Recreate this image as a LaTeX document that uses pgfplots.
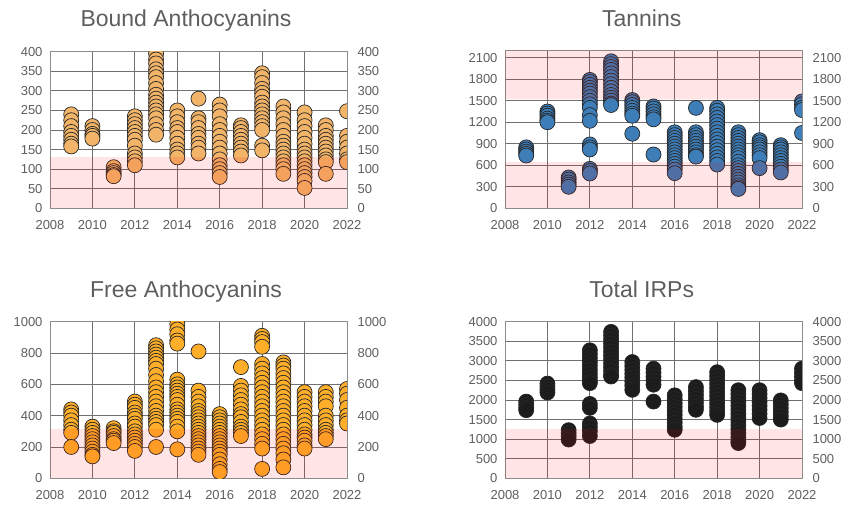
\documentclass[border=0pt]{standalone}
\usepackage{pgfplots}
\pgfplotsset{compat=1.18}
\usepackage{fontspec}
\setmainfont{Liberation Sans}
\definecolor{txt}{HTML}{5E5E5E}
\definecolor{gridc}{HTML}{707070}
\definecolor{boundc}{HTML}{F2B468}
\definecolor{freec}{HTML}{FFAE2A}
\definecolor{tanc}{HTML}{3D7DB8}
\definecolor{irpc}{HTML}{1C1C1C}
\pgfplotsset{
  base/.style={scale only axis, width=297pt, height=156.6pt,
    xmin=2008, xmax=2022, xtick={2008,2010,...,2022},
    grid=major, major grid style={gridc, line width=0.8pt},
    axis line style={gray!90, line width=0.8pt}, tick style={draw=none},
    ticklabel style={font=\fontsize{13}{15}\selectfont, text=txt},
    /pgf/number format/assume math mode=true, /pgf/number format/1000 sep={},
    clip marker paths=true,
    yticklabel style={xshift=-4pt}, xticklabel style={yshift=-9pt}},
  raxis/.style={scale only axis, width=297pt, height=156.6pt,
    xmin=2008, xmax=2022, axis y line*=right, axis x line=none,
    axis line style={gray!90, line width=0.8pt}, tick style={draw=none},
    ticklabel style={font=\fontsize{13}{15}\selectfont, text=txt},
    /pgf/number format/assume math mode=true, /pgf/number format/1000 sep={},
    yticklabel style={xshift=7pt}},
  band/.style={draw=none, fill=red, fill opacity=0.1, forget plot},
  pts/.style={only marks, mark=*, mark size=7.5pt, mark options={fill=#1, draw=black!85, line width=0.7pt}},
}
\begin{document}
\begin{tikzpicture}
\path[use as bounding box] (0,0) rectangle (849pt,504pt);
% ---------------- Bound Anthocyanins
\begin{axis}[base, at={(50pt,295.7pt)}, anchor=south west, ymin=0, ymax=400, ytick={0,50,...,400}]
\addplot[pts=boundc] coordinates {
(2009,240)(2009,225)(2009,210)(2009,195)(2009,185)(2009,175)(2009,165)(2009,158)
(2010,210)(2010,200)(2010,190)(2010,185)(2010,178)
(2011,105)(2011,95)(2011,90)(2011,85)(2011,82)
(2012,235)(2012,225)(2012,215)(2012,205)(2012,195)(2012,185)(2012,175)(2012,160)(2012,140)(2012,130)(2012,120)(2012,110)
(2013,395)(2013,380)(2013,370)(2013,355)(2013,345)(2013,335)(2013,320)(2013,305)(2013,290)(2013,280)(2013,270)(2013,260)(2013,250)(2013,240)(2013,230)(2013,215)(2013,200)(2013,188)
(2014,250)(2014,235)(2014,220)(2014,205)(2014,195)(2014,180)(2014,165)(2014,150)(2014,140)(2014,130)
(2015,280)(2015,230)(2015,220)(2015,205)(2015,190)(2015,180)(2015,165)(2015,155)(2015,140)
(2016,265)(2016,250)(2016,235)(2016,215)(2016,200)(2016,185)(2016,170)(2016,155)(2016,140)(2016,125)(2016,110)(2016,100)(2016,90)(2016,80)
(2017,212)(2017,205)(2017,195)(2017,185)(2017,175)(2017,165)(2017,155)(2017,145)(2017,135)
(2018,345)(2018,335)(2018,320)(2018,305)(2018,295)(2018,285)(2018,270)(2018,260)(2018,250)(2018,240)(2018,230)(2018,220)(2018,210)(2018,200)(2018,160)(2018,148)
(2019,260)(2019,245)(2019,230)(2019,215)(2019,200)(2019,185)(2019,170)(2019,160)(2019,150)(2019,140)(2019,130)(2019,120)(2019,110)(2019,100)(2019,88)
(2020,245)(2020,225)(2020,210)(2020,195)(2020,180)(2020,165)(2020,150)(2020,140)(2020,130)(2020,120)(2020,110)(2020,100)(2020,90)(2020,80)(2020,70)(2020,52)
(2021,212)(2021,200)(2021,185)(2021,175)(2021,165)(2021,155)(2021,145)(2021,135)(2021,125)(2021,118)(2021,88)
(2022,248)(2022,185)(2022,170)(2022,155)(2022,140)(2022,125)(2022,118)
};
\addplot[band] coordinates {(2008,130) (2022,130)} \closedcycle;
\end{axis}
\begin{axis}[raxis, at={(50pt,295.7pt)}, anchor=south west, ymin=0, ymax=400, ytick={0,50,...,400}]
\end{axis}
% ---------------- Tannins
\begin{axis}[base, at={(505pt,295.7pt)}, anchor=south west, height=157.8pt, ymin=0, ymax=2200, ytick={0,300,...,2100}]
\addplot[pts=tanc] coordinates {
(2009,850)(2009,820)(2009,790)(2009,760)(2009,735)
(2010,1350)(2010,1320)(2010,1290)(2010,1250)(2010,1220)(2010,1200)
(2011,430)(2011,400)(2011,360)(2011,330)(2011,300)
(2012,1790)(2012,1760)(2012,1720)(2012,1680)(2012,1640)(2012,1600)(2012,1550)(2012,1500)(2012,1450)(2012,1400)(2012,1300)(2012,1220)(2012,890)(2012,850)(2012,820)(2012,550)(2012,520)(2012,485)
(2013,2050)(2013,2010)(2013,1970)(2013,1930)(2013,1880)(2013,1830)(2013,1780)(2013,1730)(2013,1680)(2013,1630)(2013,1580)(2013,1540)(2013,1500)(2013,1460)(2013,1440)
(2014,1510)(2014,1480)(2014,1440)(2014,1400)(2014,1360)(2014,1320)(2014,1290)(2014,1040)
(2015,1420)(2015,1390)(2015,1350)(2015,1310)(2015,1270)(2015,1240)(2015,750)
(2016,1060)(2016,1020)(2016,980)(2016,940)(2016,900)(2016,860)(2016,820)(2016,780)(2016,740)(2016,700)(2016,660)(2016,620)(2016,580)(2016,540)(2016,490)
(2017,1400)(2017,1060)(2017,1020)(2017,980)(2017,940)(2017,900)(2017,860)(2017,820)(2017,780)(2017,740)(2017,720)
(2018,1400)(2018,1360)(2018,1310)(2018,1260)(2018,1210)(2018,1160)(2018,1110)(2018,1060)(2018,1010)(2018,960)(2018,910)(2018,860)(2018,810)(2018,760)(2018,710)(2018,660)(2018,610)
(2019,1060)(2019,1020)(2019,980)(2019,940)(2019,900)(2019,860)(2019,820)(2019,780)(2019,740)(2019,700)(2019,650)(2019,600)(2019,560)(2019,520)(2019,480)(2019,440)(2019,400)(2019,360)(2019,320)(2019,290)(2019,270)
(2020,950)(2020,920)(2020,880)(2020,850)(2020,820)(2020,780)(2020,740)(2020,700)(2020,560)
(2021,880)(2021,850)(2021,820)(2021,780)(2021,740)(2021,700)(2021,660)(2021,620)(2021,580)(2021,540)(2021,500)
(2022,1490)(2022,1450)(2022,1400)(2022,1370)(2022,1050)
};
\addplot[band] coordinates {(2008,640) (2022,640)} \closedcycle;
\addplot[band] coordinates {(2008,1520) (2022,1520) (2022,2200) (2008,2200) (2008,1520)};
\end{axis}
\begin{axis}[raxis, at={(505pt,295.7pt)}, anchor=south west, height=157.8pt, ymin=0, ymax=2200, ytick={0,300,...,2100}]
\end{axis}
% ---------------- Free Anthocyanins
\begin{axis}[base, at={(50pt,25.7pt)}, anchor=south west, ymin=0, ymax=1000, ytick={0,200,...,1000}]
\addplot[pts=freec] coordinates {
(2009,440)(2009,420)(2009,400)(2009,370)(2009,340)(2009,310)(2009,290)(2009,200)
(2010,330)(2010,310)(2010,290)(2010,270)(2010,250)(2010,230)(2010,210)(2010,190)(2010,170)(2010,150)(2010,140)
(2011,320)(2011,300)(2011,290)(2011,270)(2011,250)(2011,240)(2011,225)
(2012,490)(2012,470)(2012,450)(2012,420)(2012,400)(2012,380)(2012,350)(2012,330)(2012,300)(2012,280)(2012,260)(2012,240)(2012,220)(2012,200)(2012,175)
(2013,850)(2013,830)(2013,810)(2013,790)(2013,770)(2013,750)(2013,730)(2013,700)(2013,660)(2013,620)(2013,580)(2013,550)(2013,520)(2013,490)(2013,460)(2013,430)(2013,400)(2013,380)(2013,360)(2013,340)(2013,310)(2013,200)
(2014,985)(2014,950)(2014,920)(2014,880)(2014,860)(2014,630)(2014,600)(2014,580)(2014,560)(2014,540)(2014,520)(2014,500)(2014,470)(2014,440)(2014,420)(2014,400)(2014,380)(2014,360)(2014,330)(2014,300)(2014,185)
(2015,810)(2015,560)(2015,520)(2015,490)(2015,460)(2015,430)(2015,410)(2015,390)(2015,370)(2015,350)(2015,330)(2015,310)(2015,290)(2015,270)(2015,250)(2015,230)(2015,210)(2015,190)(2015,170)(2015,150)
(2016,410)(2016,390)(2016,370)(2016,350)(2016,330)(2016,310)(2016,290)(2016,270)(2016,250)(2016,230)(2016,210)(2016,190)(2016,170)(2016,150)(2016,120)(2016,90)(2016,60)(2016,40)
(2017,710)(2017,590)(2017,560)(2017,530)(2017,500)(2017,470)(2017,440)(2017,410)(2017,390)(2017,360)(2017,330)(2017,310)(2017,290)(2017,270)
(2018,910)(2018,890)(2018,870)(2018,840)(2018,730)(2018,700)(2018,670)(2018,640)(2018,610)(2018,580)(2018,550)(2018,520)(2018,490)(2018,460)(2018,430)(2018,400)(2018,370)(2018,340)(2018,310)(2018,280)(2018,250)(2018,220)(2018,190)(2018,60)
(2019,740)(2019,720)(2019,700)(2019,670)(2019,640)(2019,610)(2019,580)(2019,550)(2019,520)(2019,490)(2019,460)(2019,430)(2019,400)(2019,370)(2019,340)(2019,310)(2019,280)(2019,250)(2019,220)(2019,190)(2019,160)(2019,120)(2019,70)
(2020,550)(2020,520)(2020,490)(2020,460)(2020,430)(2020,400)(2020,370)(2020,340)(2020,310)(2020,280)(2020,260)(2020,240)(2020,210)(2020,190)
(2021,550)(2021,520)(2021,490)(2021,460)(2021,400)(2021,370)(2021,340)(2021,310)(2021,290)(2021,270)(2021,250)
(2022,570)(2022,540)(2022,500)(2022,450)(2022,400)(2022,370)(2022,350)
};
\addplot[band] coordinates {(2008,315) (2022,315)} \closedcycle;
\end{axis}
\begin{axis}[raxis, at={(50pt,25.7pt)}, anchor=south west, ymin=0, ymax=1000, ytick={0,200,...,1000}]
\end{axis}
% ---------------- Total IRPs
\begin{axis}[base, at={(505pt,25.7pt)}, anchor=south west, ymin=0, ymax=4000, ytick={0,500,...,4000}]
\addplot[pts=irpc] coordinates {
(2009,1960)(2009,1880)(2009,1800)(2009,1740)
(2010,2420)(2010,2340)(2010,2260)(2010,2190)
(2011,1230)(2011,1150)(2011,1070)(2011,990)
(2012,3270)(2012,3170)(2012,3070)(2012,2970)(2012,2870)(2012,2770)(2012,2670)(2012,2570)(2012,2480)(2012,2430)(2012,1900)(2012,1800)(2012,1400)(2012,1300)(2012,1200)(2012,1080)
(2013,3740)(2013,3640)(2013,3540)(2013,3440)(2013,3340)(2013,3240)(2013,3140)(2013,3040)(2013,2940)(2013,2840)(2013,2740)(2013,2640)(2013,2600)
(2014,2970)(2014,2870)(2014,2770)(2014,2670)(2014,2570)(2014,2470)(2014,2370)(2014,2260)
(2015,2800)(2015,2700)(2015,2600)(2015,2500)(2015,2390)(2015,1960)
(2016,2120)(2016,2020)(2016,1920)(2016,1820)(2016,1720)(2016,1620)(2016,1520)(2016,1420)(2016,1320)(2016,1240)
(2017,2330)(2017,2230)(2017,2130)(2017,2030)(2017,1930)(2017,1830)(2017,1750)
(2018,2710)(2018,2610)(2018,2510)(2018,2410)(2018,2310)(2018,2210)(2018,2110)(2018,2010)(2018,1910)(2018,1810)(2018,1710)(2018,1620)
(2019,2250)(2019,2150)(2019,2050)(2019,1950)(2019,1850)(2019,1750)(2019,1650)(2019,1550)(2019,1450)(2019,1350)(2019,1250)(2019,1150)(2019,1050)(2019,950)(2019,900)
(2020,2250)(2020,2150)(2020,2050)(2020,1950)(2020,1850)(2020,1750)(2020,1650)(2020,1540)
(2021,1990)(2021,1890)(2021,1790)(2021,1690)(2021,1590)(2021,1500)
(2022,2800)(2022,2700)(2022,2600)(2022,2500)(2022,2430)
};
\addplot[band] coordinates {(2008,1250) (2022,1250)} \closedcycle;
\end{axis}
\begin{axis}[raxis, at={(505pt,25.7pt)}, anchor=south west, ymin=0, ymax=4000, ytick={0,500,...,4000}]
\end{axis}
% ---------------- Titles
\node[font=\fontsize{23}{27}\selectfont, text=txt, anchor=base] at (186pt,477.3pt) {Bound Anthocyanins};
\node[font=\fontsize{23}{27}\selectfont, text=txt, anchor=base] at (641.7pt,477.3pt) {Tannins};
\node[font=\fontsize{23}{27}\selectfont, text=txt, anchor=base] at (186pt,206.5pt) {Free Anthocyanins};
\node[font=\fontsize{23}{27}\selectfont, text=txt, anchor=base] at (641.7pt,206pt) {Total IRPs};
\end{tikzpicture}
\end{document}
